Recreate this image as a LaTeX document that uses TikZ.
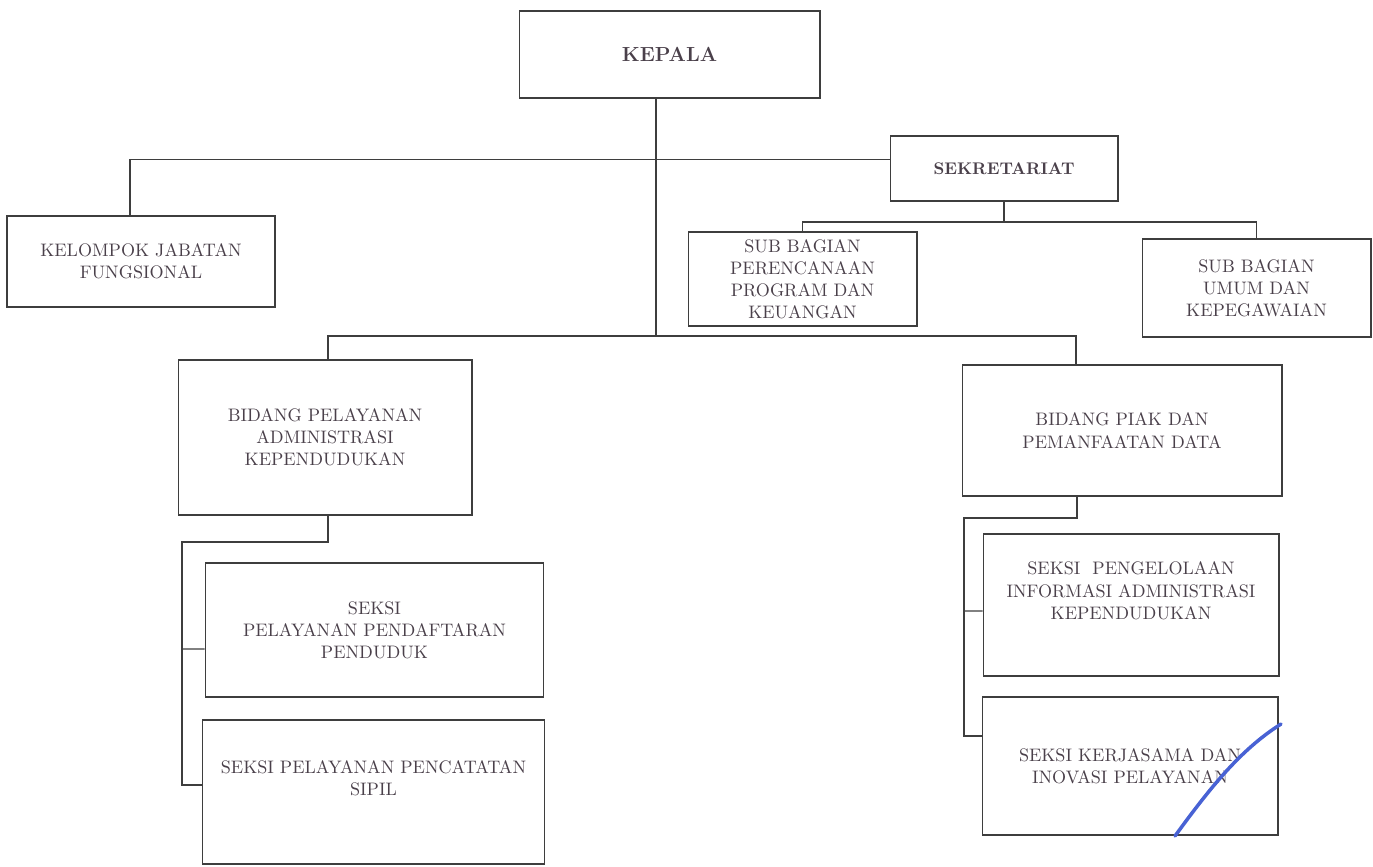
\documentclass[tikz,border=0pt]{standalone}
\usepackage{tikz}
\definecolor{ink}{RGB}{74,64,74}
\definecolor{rule}{RGB}{62,62,62}
\definecolor{pen}{RGB}{72,98,212}
\tikzset{
	unit/.style={draw=rule, line width=0.6pt, text=ink, align=center, inner sep=2pt, font=\fontsize{10.3}{12.6}\selectfont},
	link/.style={draw=rule, line width=0.6pt},
}

\begin{document}
\begin{tikzpicture}[x=0.02cm,y=-0.02cm]
	\useasboundingbox (0,0) rectangle (1373,866);

	\node[unit, minimum width=6.02cm, minimum height=1.74cm] (kepala) at (669.5,54.5) {\fontsize{11.6}{14}\selectfont\bfseries KEPALA};
	\node[unit, minimum width=4.56cm, minimum height=1.30cm] (sekretariat) at (1004,168.5) {\fontsize{9.6}{12}\selectfont\bfseries SEKRETARIAT};
	\node[unit, minimum width=5.36cm, minimum height=1.82cm] (kelompok) at (141,261.5) {KELOMPOK JABATAN\\FUNGSIONAL};
	\node[unit, minimum width=4.58cm, minimum height=1.88cm] (perencanaan) at (802.5,279) {SUB BAGIAN\\PERENCANAAN\\PROGRAM DAN\\KEUANGAN};
	\node[unit, minimum width=4.58cm, minimum height=1.96cm] (umum) at (1256.5,288) {SUB BAGIAN\\UMUM DAN\\KEPEGAWAIAN};
	\node[unit, minimum width=5.88cm, minimum height=3.10cm] (pelayanan) at (325,437.5) {BIDANG PELAYANAN\\ADMINISTRASI\\KEPENDUDUKAN};
	\node[unit, minimum width=6.40cm, minimum height=2.62cm] (piak) at (1122,430.5) {BIDANG PIAK DAN\\PEMANFAATAN DATA};
	\node[unit, minimum width=6.78cm, minimum height=2.68cm] (pendaftaran) at (374.5,630) {SEKSI\\PELAYANAN PENDAFTARAN\\PENDUDUK};
	\node[unit, minimum width=6.86cm, minimum height=2.88cm] (pencatatan) at (373.5,792) {SEKSI PELAYANAN PENCATATAN\\SIPIL\\\strut};
	\node[unit, minimum width=5.92cm, minimum height=2.84cm] (pengelolaan) at (1131,605) {SEKSI~ PENGELOLAAN\\INFORMASI ADMINISTRASI\\KEPENDUDUKAN\\\strut};
	\node[unit, minimum width=5.92cm, minimum height=2.76cm] (kerjasama) at (1130,766) {SEKSI KERJASAMA DAN\\INOVASI PELAYANAN};

	\coordinate (midbus) at (656,336);
	\coordinate (sekbus) at (1004,222);
	\coordinate (leftspine) at (182,542);
	\coordinate (rightspine) at (964,518);

	\draw[link] (kepala.south -| midbus) -- (midbus);
	\draw[link] ([xshift=-0.22cm]kelompok.north) |- ([yshift=0.18cm]sekretariat.west);
	\draw[link] (sekretariat.south) -- (sekbus);
	\draw[link] (perencanaan.north) |- (sekbus) -| (umum.north);
	\draw[link] ([xshift=0.06cm]pelayanan.north) |- (midbus) -| ([xshift=-0.92cm]piak.north);

	\draw[link] ([xshift=0.06cm]pelayanan.south) |- (leftspine) |- ([yshift=0.14cm]pencatatan.west);
	\draw[link] (leftspine |- 0,649) -- ([yshift=-0.38cm]pendaftaran.west);

	\draw[link] ([xshift=-0.9cm]piak.south) |- (rightspine) |- ([yshift=0.6cm]kerjasama.west);
	\draw[link] (rightspine |- 0,611) -- ([yshift=-0.12cm]pengelolaan.west);

	\draw[pen, line width=2pt, line cap=round] (1175,836) .. controls (1210,788) and (1240,750) .. (1281,724);
\end{tikzpicture}
\end{document}
